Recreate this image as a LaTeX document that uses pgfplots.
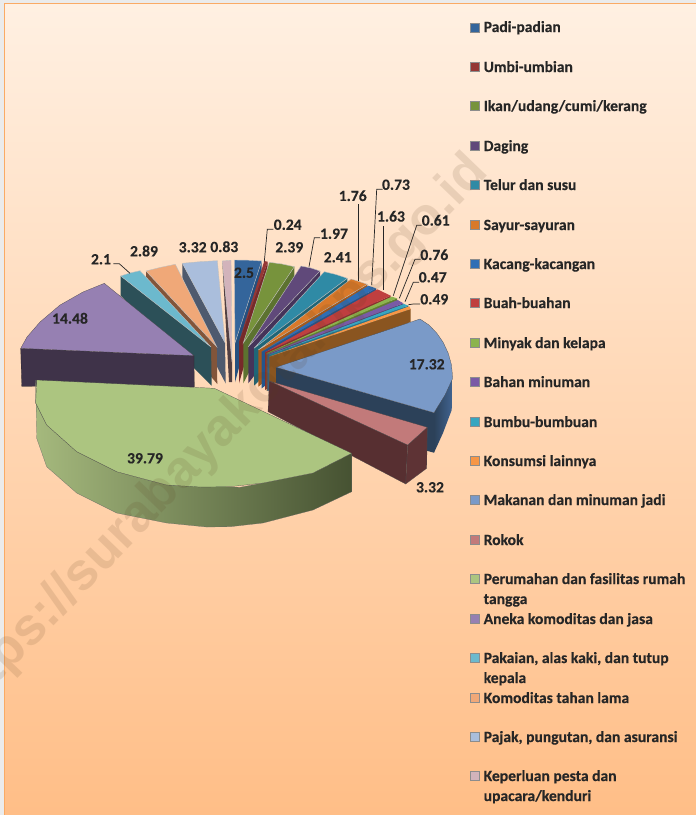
\documentclass[border=0pt]{standalone}
\usepackage{pgfplots}
\pgfplotsset{compat=1.18}
\usepackage{fontspec}
\setmainfont{Carlito}[BoldFeatures={FakeBold=0.25}]
\newfontfamily\wm{Liberation Sans}
\definecolor{txt}{HTML}{262626}
\definecolor{bgA}{RGB}{255,240,226}
\definecolor{bgB}{RGB}{255,222,198}
\definecolor{bgC}{RGB}{255,190,135}
\definecolor{frame}{RGB}{250,170,100}
\definecolor{wmc}{RGB}{90,60,30}
\definecolor{cPadi}{RGB}{52,101,155}\definecolor{sPadi}{RGB}{37,80,127}
\definecolor{cUmbi}{RGB}{149,55,53}\definecolor{sUmbi}{RGB}{118,42,42}
\definecolor{cIkan}{RGB}{119,147,60}\definecolor{sIkan}{RGB}{92,114,48}
\definecolor{cDag}{RGB}{96,73,122}\definecolor{sDag}{RGB}{69,52,90}
\definecolor{cTel}{RGB}{47,138,165}\definecolor{sTel}{RGB}{31,102,120}
\definecolor{cSay}{RGB}{216,121,42}\definecolor{sSay}{RGB}{165,89,27}
\definecolor{cKac}{RGB}{46,110,181}\definecolor{sKac}{RGB}{36,85,140}
\definecolor{cBuah}{RGB}{191,63,63}\definecolor{sBuah}{RGB}{140,46,44}
\definecolor{cMin}{RGB}{139,180,78}\definecolor{sMin}{RGB}{95,125,51}
\definecolor{cBah}{RGB}{122,90,166}\definecolor{sBah}{RGB}{85,64,122}
\definecolor{cBum}{RGB}{55,166,192}\definecolor{sBum}{RGB}{38,118,138}
\definecolor{cKon}{RGB}{247,150,70}\definecolor{sKon}{RGB}{138,85,32}
\definecolor{cMak}{RGB}{122,154,200}\definecolor{sMak}{RGB}{44,65,89}\definecolor{tMak}{RGB}{65,100,145}
\definecolor{cRok}{RGB}{194,122,122}\definecolor{sRok}{RGB}{87,47,49}\definecolor{tRok}{RGB}{94,51,53}
\definecolor{cPer}{RGB}{172,197,128}\definecolor{sPerL}{RGB}{165,185,125}\definecolor{sPerM}{RGB}{98,112,74}\definecolor{sPerR}{RGB}{70,82,50}
\definecolor{cAne}{RGB}{150,128,178}\definecolor{sAne}{RGB}{63,51,73}
\definecolor{cPak}{RGB}{108,185,205}\definecolor{sPak}{RGB}{44,80,88}
\definecolor{cKom}{RGB}{240,168,120}\definecolor{sKom}{RGB}{130,85,58}
\definecolor{cPaj}{RGB}{170,190,220}\definecolor{sPaj}{RGB}{78,90,110}
\definecolor{cKep}{RGB}{210,179,187}\definecolor{sKep}{RGB}{80,62,66}
\pgfplotsset{
  lead/.style={draw=txt, line width=0.7pt},
  sw/.style={only marks, mark=square*, mark size=4.6pt, mark options={fill=#1, draw=black!45, line width=0.3pt}},
}
\newcommand{\lgt}[2]{\node[anchor=base west, inner sep=0pt, font=\fontsize{15.6}{17}\selectfont\bfseries, text=txt] at (axis cs:483.5,#1) {#2};}
\newcommand{\vlb}[3]{\node[inner sep=0pt, font=\fontsize{15.6}{17}\selectfont\bfseries, text=txt] at (axis cs:#1,#2) {#3};}
\begin{document}
\begin{tikzpicture}
\useasboundingbox (0,0) rectangle (696pt,815pt);
\clip (0,0) rectangle (696pt,815pt);
\fill[white!92!black] (0,0) rectangle (696pt,815pt);
\shade[top color=bgA, middle color=bgB, bottom color=bgC] (4pt,0) rectangle (696pt,811.5pt);
\draw[color=frame, line width=1pt] (4pt,0) -- (4pt,811.5pt) -- (696pt,811.5pt);
\begin{axis}[at={(0,0)}, anchor=south west, scale only axis, width=696pt, height=815pt,
  xmin=0, xmax=696, ymin=0, ymax=815, y dir=reverse, hide axis, clip=false]
% Keperluan
\addplot[fill=sKep, draw=none] coordinates {(222.3,261) (232,360) (232,382) (229,382)} --cycle;
\addplot[fill=cKep, draw=gray!50] coordinates {(222.3,261) (231,260.3) (232,362)} --cycle;
% Pajak
\addplot[fill=sPaj, draw=none] coordinates {(182.3,263.3) (225,342.7) (225.7,383.5) (182.3,300)} --cycle;
\addplot[fill=cPaj, draw=gray!50] coordinates {(182.3,263.3) (200,261.7) (217.3,260.7) (225,342.7)} --cycle;
% Komoditas tahan lama
\addplot[fill=sKom, draw=none] coordinates {(146,271) (216.7,346.7) (217.3,384) (146,300)} --cycle;
\addplot[fill=cKom, draw=gray!50] coordinates {(146,271) (160,267.5) (175.3,264.3) (216.7,346.7)} --cycle;
% Pakaian
\addplot[fill=sPak, draw=none] coordinates {(120.7,276) (211,347) (211.7,385.7) (120.7,295.7)} --cycle;
\addplot[fill=cPak, draw=gray!50] coordinates {(120.7,276) (130,273) (140,270.7) (211,347)} --cycle;
% Aneka komoditas
\addplot[fill=sAne, draw=gray!30!black, line width=0.2pt] coordinates {(20.7,348.3) (194,355.7) (194.3,387) (21.7,386.3)} --cycle;
\addplot[fill=cAne, draw=gray!50!black, line width=0.2pt] coordinates {(104.3,283.3) (83,292) (60,305) (40,322) (27,337) (20.7,348.3) (194,355.7)} --cycle;
% Padi
\addplot[fill=sPadi, draw=none] coordinates {(261.7,261) (235,343) (235,382.3) (261.7,285)} --cycle;
\addplot[fill=cPadi, draw=gray!50] coordinates {(234.3,260) (248,260.2) (261.7,261) (235,343)} --cycle;
% Umbi
\addplot[fill=sUmbi, draw=none] coordinates {(267.7,261.7) (239,341.7) (239,383.3) (267.7,285)} --cycle;
\addplot[fill=cUmbi, draw=none] coordinates {(264.3,261) (267.7,261.7) (239,341.7)} --cycle;
% Ikan
\addplot[fill=sIkan, draw=none] coordinates {(294.3,266.7) (243.3,343) (243.3,383.3) (294.3,285)} --cycle;
\addplot[fill=cIkan, draw=gray!50] coordinates {(269.3,262.3) (282,264) (294.3,266.7) (243.3,343)} --cycle;
% Daging
\addplot[fill=sDag, draw=none] coordinates {(320,271) (248.3,346.7) (248.3,383.3) (320,292)} --cycle;
\addplot[fill=cDag, draw=gray!50] coordinates {(301,266) (311,268) (320,271) (248.3,346.7)} --cycle;
% Telur
\addplot[fill=sTel, draw=none] coordinates {(347.3,278.3) (254,348.3) (254,385.7) (347.3,296)} --cycle;
\addplot[fill=cTel, draw=gray!50] coordinates {(324.3,271.7) (336,274.5) (347.3,278.3) (254,348.3)} --cycle;
% Sayur
\addplot[fill=sSay, draw=none] coordinates {(367.3,284.3) (258.3,350) (258.3,386.7) (367.3,300)} --cycle;
\addplot[fill=cSay, draw=gray!50] coordinates {(351,279) (359,281.5) (367.3,284.3) (258.3,350)} --cycle;
% Kacang
\addplot[fill=sKac, draw=none] coordinates {(376,288.3) (261.7,351.7) (261.7,388.3) (376,303)} --cycle;
\addplot[fill=cKac, draw=none] coordinates {(368.3,285.7) (376,288.3) (261.7,351.7)} --cycle;
% Buah
\addplot[fill=sBuah, draw=none] coordinates {(390.7,295.7) (265,352.3) (265,390) (390.7,310)} --cycle;
\addplot[fill=cBuah, draw=none] coordinates {(377.3,289.3) (390.7,295.7) (265,352.3)} --cycle;
% Minyak
\addplot[fill=sMin, draw=none] coordinates {(397,298.3) (266.7,353.3) (266.7,391) (397,314)} --cycle;
\addplot[fill=cMin, draw=none] coordinates {(391.7,296.7) (397,298.3) (266.7,353.3)} --cycle;
% Bahan minuman
\addplot[fill=sBah, draw=none] coordinates {(403.3,303.3) (267.3,354.3) (267.3,391) (403.3,316)} --cycle;
\addplot[fill=cBah, draw=none] coordinates {(397.7,300) (403.3,303.3) (267.3,354.3)} --cycle;
% Bumbu
\addplot[fill=sBum, draw=none] coordinates {(408.3,305.7) (268.3,355) (268.3,391) (408.3,318)} --cycle;
\addplot[fill=cBum, draw=none] coordinates {(404,304) (408.3,305.7) (268.3,355)} --cycle;
% Konsumsi
\addplot[fill=sKon, draw=none] coordinates {(410.7,309) (269.3,356.7) (269.3,391) (410.7,321.7)} --cycle;
\addplot[fill=cKon, draw=none] coordinates {(409.3,306.3) (410.7,309) (269.3,356.7)} --cycle;
% Makanan
\addplot[fill=sMak, draw=none] coordinates {(276,367.3) (434,412.7) (434,452.7) (276,410)} --cycle;
\addplot[left color=sMak, right color=tMak, draw=none] coordinates {(434,412.7) (452.7,378.3) (451.7,410) (443,433) (434,452.7)} --cycle;
\addplot[fill=cMak, draw=gray!50!black, line width=0.2pt] coordinates {(420,319) (429,325) (436.7,333) (443,342) (448.3,353.3) (451.5,365) (452.7,378.3) (445,395) (434,412.7) (276,367.3)} --cycle;
% Rokok
\addplot[fill=sRok, draw=gray!60!black, line width=0.2pt] coordinates {(269.3,381) (407.7,445) (405.7,484) (268,411.7)} --cycle;
\addplot[fill=tRok, draw=gray!60!black, line width=0.2pt] coordinates {(407.7,445) (427.3,427.3) (426.7,468.3) (405.7,484)} --cycle;
\addplot[fill=cRok, draw=gray!50!black, line width=0.2pt] coordinates {(269.3,381) (427.3,427.3) (407.7,445)} --cycle;
% Perumahan
\addplot[left color=sPerL, middle color=sPerM, right color=sPerR, draw=black!60, line width=0.2pt] coordinates {(35.7,380) (36.7,438.3) (46.7,466.7) (76.7,493) (116.7,513) (166.7,523) (206.7,527) (230,526.7) (263,523) (313,510) (351.7,491.7) (351.7,453.3) (313,473) (263,483) (240,487.3) (166.7,485) (116.7,471.7) (76.7,451.7) (46.7,425) (35.7,403)} --cycle;
\addplot[fill=cPer, draw=gray!50!black, line width=0.2pt] coordinates {(36.7,380) (214.3,388.3) (351.7,453.3) (313,473) (263,483) (230,486.7) (200,487) (166.7,485) (116.7,471.7) (76.7,451.7) (46.7,425) (35.7,403)} --cycle;
% leaders
\addplot[lead] coordinates {(264.3,261.7) (267.3,229.3) (273.3,229.3)};
\addplot[lead] coordinates {(309,266.7) (314.3,237.7) (320,237.7)};
\addplot[lead] coordinates {(358.3,204.3) (358.3,280.7)};
\addplot[lead] coordinates {(371.7,285) (376.7,189.3) (382.7,189.3)};
\addplot[lead] coordinates {(383,226) (383,290)};
\addplot[lead] coordinates {(393.3,295.7) (416.7,225.3) (421.7,225.3)};
\addplot[lead] coordinates {(399.3,298.3) (415,259.3) (420.7,259.3)};
\addplot[lead] coordinates {(405,301.7) (413.3,282.3) (419,282.3)};
\addplot[lead] coordinates {(408.3,304.7) (413.3,304) (420,304)};
\addplot[lead] coordinates {(113.3,263.7) (119.3,263.7) (130,273.3)};
% legend swatches
\addplot[sw=cPadi] coordinates {(475,27.5)};
\addplot[sw=cUmbi] coordinates {(475,67)};
\addplot[sw=cIkan] coordinates {(475,106)};
\addplot[sw=cDag] coordinates {(475,146)};
\addplot[sw=cTel] coordinates {(475,185)};
\addplot[sw=cSay] coordinates {(475,225)};
\addplot[sw=cKac] coordinates {(475,264)};
\addplot[sw=cBuah] coordinates {(475,303)};
\addplot[sw=cMin] coordinates {(475,343)};
\addplot[sw=cBah] coordinates {(475,382)};
\addplot[sw=cBum] coordinates {(475,422)};
\addplot[sw=cKon] coordinates {(475,461)};
\addplot[sw=cMak] coordinates {(475,500)};
\addplot[sw=cRok] coordinates {(475,540)};
\addplot[sw=cPer] coordinates {(475,579)};
\addplot[sw=cAne] coordinates {(475,619)};
\addplot[sw=cPak] coordinates {(475,658)};
\addplot[sw=cKom] coordinates {(475,698)};
\addplot[sw=cPaj] coordinates {(475,737)};
\addplot[sw=cKep] coordinates {(475,776)};
% watermark
\node[rotate=46, text opacity=0.13, text=wmc, font=\fontsize{52.5}{52}\selectfont\wm\bfseries, anchor=east] at (axis cs:483,162) {https://surabayakota.bps.go.id};
% legend text
\lgt{32}{Padi-padian}
\lgt{72}{Umbi-umbian}
\lgt{111}{Ikan/udang/cumi/kerang}
\lgt{151}{Daging}
\lgt{190}{Telur dan susu}
\lgt{230}{Sayur-sayuran}
\lgt{269}{Kacang-kacangan}
\lgt{308}{Buah-buahan}
\lgt{348}{Minyak dan kelapa}
\lgt{387}{Bahan minuman}
\lgt{427}{Bumbu-bumbuan}
\lgt{466}{Konsumsi lainnya}
\lgt{505}{Makanan dan minuman jadi}
\lgt{545}{Rokok}
\lgt{584}{Perumahan dan fasilitas rumah}
\lgt{604}{tangga}
\lgt{624}{Aneka komoditas dan jasa}
\lgt{663}{Pakaian, alas kaki, dan tutup}
\lgt{683}{kepala}
\lgt{703}{Komoditas tahan lama}
\lgt{742}{Pajak, pungutan, dan asuransi}
\lgt{781}{Keperluan pesta dan}
\lgt{801}{upacara/kenduri}
% values
\vlb{244}{272.7}{2.5}
\vlb{287.7}{224.7}{0.24}
\vlb{289.3}{247.3}{2.39}
\vlb{334}{233.7}{1.97}
\vlb{337.7}{257.3}{2.41}
\vlb{352.7}{195.7}{1.76}
\vlb{396}{184.7}{0.73}
\vlb{391}{216.3}{1.63}
\vlb{435.7}{220.3}{0.61}
\vlb{434.3}{254.7}{0.76}
\vlb{432.7}{277.3}{0.47}
\vlb{434.3}{299.3}{0.49}
\vlb{426.7}{364.3}{17.32}
\vlb{430}{487.3}{3.32}
\vlb{145}{458.3}{39.79}
\vlb{70}{318.3}{14.48}
\vlb{101}{259.3}{2.1}
\vlb{144}{251}{2.89}
\vlb{192.7}{247.3}{3.32}
\vlb{224.3}{246.7}{0.83}
\end{axis}
\end{tikzpicture}
\end{document}
